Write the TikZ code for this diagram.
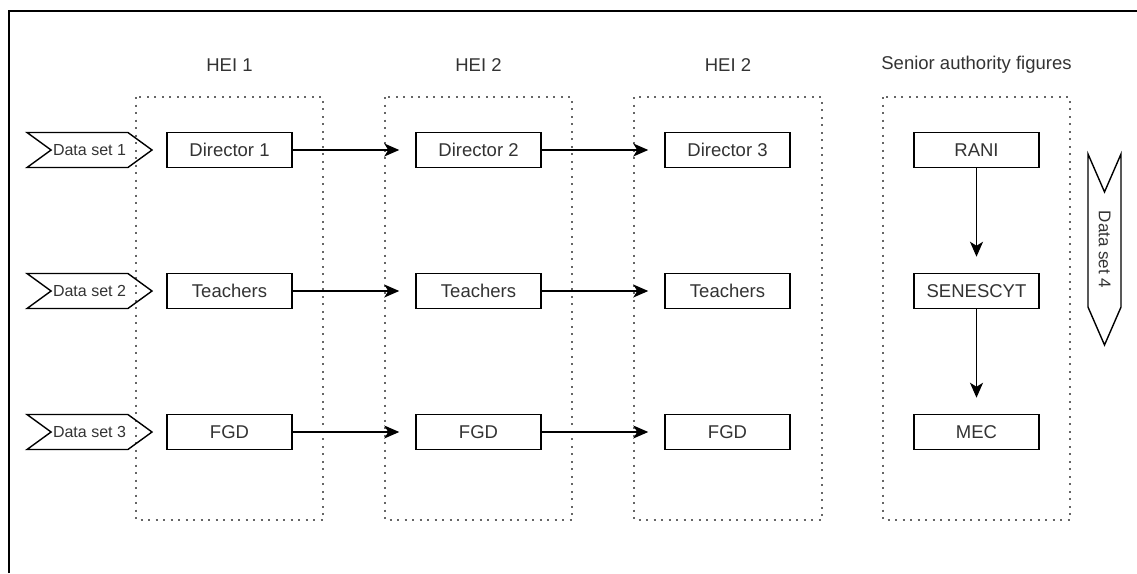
\documentclass[tikz,border=0pt]{standalone}
\usepackage{fontspec}
\setmainfont{Liberation Sans}
\usetikzlibrary{arrows.meta,shapes.symbols}

\tikzset{
  actor/.style={draw=black, line width=1.5pt, fill=white, minimum width=125pt,
    minimum height=35pt, inner sep=0pt, text=black!80,
    font=\fontsize{18.5}{22}\selectfont},
  group/.style={draw=black!60, line width=1.6pt, dash pattern=on 2pt off 5.5pt},
  grouplabel/.style={text=black!80, font=\fontsize{18.5}{22}\selectfont},
  dataset/.style={draw=black, line width=1.4pt, shape=signal, signal to=east,
    signal from=west, signal pointer angle=72, minimum width=125pt,
    minimum height=35pt, inner sep=0pt, text=black!80,
    font=\fontsize{16}{19}\selectfont},
  flow/.style={draw=black, line width=1.6pt,
    -{Stealth[length=15pt, width=13pt, inset=4pt]}, shorten >=16pt},
}

\begin{document}
\begin{tikzpicture}[x=1pt, y=-1pt]
  \useasboundingbox (0,0) rectangle (1137,573);

  % frame edges
  \draw[line width=2.4pt] (9,573) -- (9,11) -- (1137,11);

  % column groups
  \draw[group] (136,97) rectangle (323,520);
  \draw[group] (385,97) rectangle (572,520);
  \draw[group] (634,97) rectangle (822,520);
  \draw[group] (883,97) rectangle (1070,520);

  % column headings
  \node[grouplabel] (h1) at (229.5,65) {HEI 1};
  \node[grouplabel] (h2) at (478.5,65) {HEI 2};
  \node[grouplabel] (h3) at (728,65) {HEI 2};
  \node[grouplabel] (h4) at (976.5,65) {Senior authority figures};

  % data set markers
  \node[dataset] (ds1) at (89.5,150) {Data set 1};
  \node[dataset] (ds2) at (89.5,291) {Data set 2};
  \node[dataset] (ds3) at (89.5,432) {Data set 3};
  \node[dataset, rotate=-90, minimum width=191pt, minimum height=33pt,
    signal pointer angle=47, font=\fontsize{17}{20}\selectfont]
    (ds4) at (1104.5,249.5) {Data set 4};

  % actors
  \node[actor] (d1) at (229.5,150) {Director 1};
  \node[actor] (d2) at (478.5,150) {Director 2};
  \node[actor] (d3) at (727.5,150) {Director 3};
  \node[actor] (t1) at (229.5,291) {Teachers};
  \node[actor] (t2) at (478.5,291) {Teachers};
  \node[actor] (t3) at (727.5,291) {Teachers};
  \node[actor] (f1) at (229.5,432) {FGD};
  \node[actor] (f2) at (478.5,432) {FGD};
  \node[actor] (f3) at (727.5,432) {FGD};
  \node[actor] (rani) at (976.5,150) {RANI};
  \node[actor] (sen) at (976.5,291) {SENESCYT};
  \node[actor] (mec) at (976.5,432) {MEC};

  % flows
  \draw[flow] (d1) -- (d2);
  \draw[flow] (d2) -- (d3);
  \draw[flow] (t1) -- (t2);
  \draw[flow] (t2) -- (t3);
  \draw[flow] (f1) -- (f2);
  \draw[flow] (f2) -- (f3);
  \draw[flow] (rani) -- (sen);
  \draw[flow] (sen) -- (mec);
\end{tikzpicture}
\end{document}
